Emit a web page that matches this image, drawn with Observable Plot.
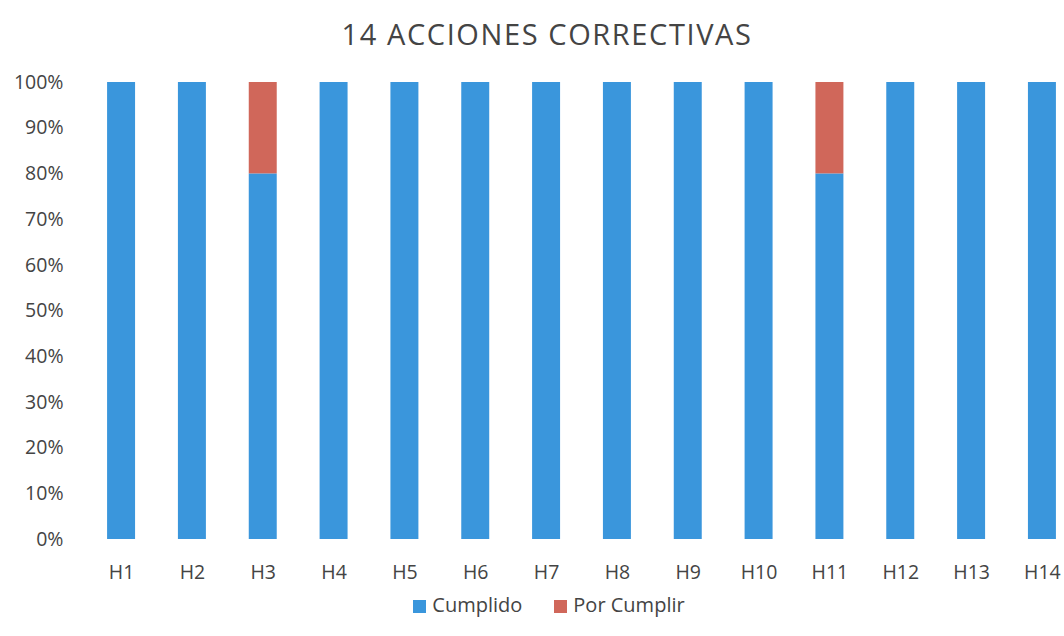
<!DOCTYPE html>
<html>
<head>
<meta charset="utf-8">
<script src="https://cdn.jsdelivr.net/npm/d3@7"></script>
<script src="https://cdn.jsdelivr.net/npm/@observablehq/plot@0.6"></script>
<style>
  html, body { margin: 0; padding: 0; background: #fff; }
  body { width: 1064px; height: 636px; overflow: hidden; font-family: "Open Sans", sans-serif; color: #444; }
  #title { height: 65px; line-height: 68px; text-align: center; font-size: 29px; letter-spacing: 1.6px; color: #444; padding-left: 30px; }
  #chart svg { display: block; }
  #legend { display: flex; justify-content: center; align-items: center; gap: 32px; font-size: 20px; color: #444; margin-top: 1px; padding-left: 34px; }
  .sw { display: inline-block; width: 13px; height: 13px; margin-right: 6px; vertical-align: middle; }
</style>
</head>
<body>
<div id="title">14 ACCIONES CORRECTIVAS</div>
<div id="chart"></div>
<div id="legend"></div>
<script>
const categories = ["H1","H2","H3","H4","H5","H6","H7","H8","H9","H10","H11","H12","H13","H14"];
const cumplido   = [100,100,80,100,100,100,100,100,100,100,80,100,100,100];
const porCumplir = [0,0,20,0,0,0,0,0,0,0,20,0,0,0];
const seriesNames = ["Cumplido","Por Cumplir"];
const seriesColors = ["#3a96dc","#d0675a"];
const yTicks = [0,10,20,30,40,50,60,70,80,90,100];

const rows = [];
categories.forEach((c, i) => {
  rows.push({cat: c, serie: seriesNames[0], value: cumplido[i]});
  rows.push({cat: c, serie: seriesNames[1], value: porCumplir[i]});
});

const chart = Plot.plot({
  width: 1064,
  height: 525,
  marginLeft: 100,
  marginRight: 1,
  marginTop: 17,
  marginBottom: 51,
  style: {fontFamily: "Open Sans, sans-serif", fontSize: "19.5px", color: "#444", background: "#fff"},
  x: {domain: categories, range: [100, 1063], round: false, paddingInner: 0.605, paddingOuter: 0.1, label: null, tickSize: 0, tickPadding: 26},
  y: {domain: [0, 100], ticks: yTicks, tickFormat: d => d + "%", label: null, tickSize: 0, tickPadding: 37},
  color: {domain: seriesNames, range: seriesColors},
  marks: [
    Plot.barY(rows, Plot.stackY({x: "cat", y: "value", fill: "serie", order: seriesNames}))
  ]
});
document.getElementById("chart").appendChild(chart);

const legend = document.getElementById("legend");
seriesNames.forEach((n, i) => {
  const s = document.createElement("span");
  s.innerHTML = `<span class="sw" style="background:${seriesColors[i]}"></span>${n}`;
  legend.appendChild(s);
});
</script>
</body>
</html>
